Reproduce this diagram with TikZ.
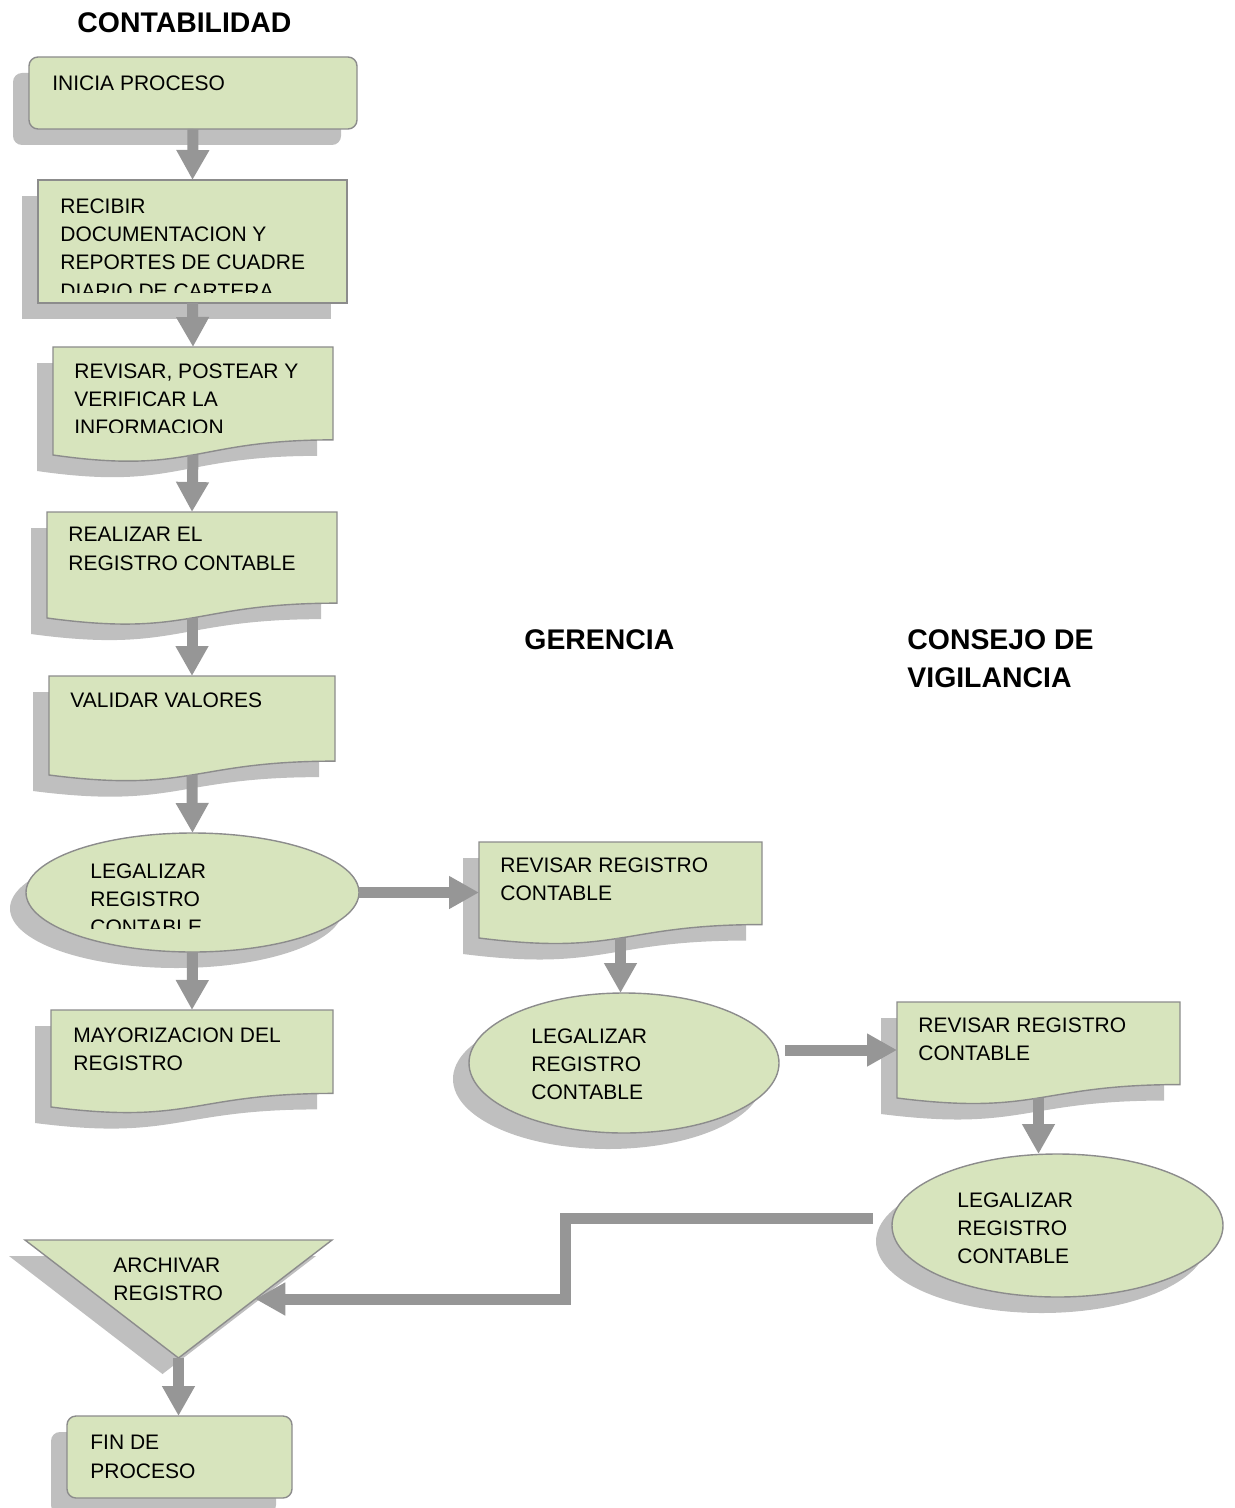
\documentclass[tikz,border=0pt]{standalone}
\usepackage{fontspec}
\setmainfont{Liberation Sans}
\usetikzlibrary{positioning, shapes.geometric, shadows, calc, arrows.meta}

\definecolor{boxfill}{HTML}{D7E4BD}
\definecolor{boxline}{HTML}{8C8C8C}
\definecolor{dropfill}{HTML}{BFBFBF}
\definecolor{flowgray}{HTML}{969696}

\tikzset{
outline/.style={draw=boxline, line width=0.7pt, fill=boxfill}, % green shapes with a thin gray border
dropgray/.style={drop shadow={shadow xshift=-8pt, shadow yshift=-8pt, fill=dropfill, opacity=1}},
procbox/.style={rectangle, outline, dropgray, inner sep=0pt, outer sep=0pt},
startbox/.style={procbox, rounded corners=4.5pt},
docbox/.style={rectangle, inner sep=0pt, outer sep=0pt}, % outline is drawn by \docpath
legal/.style={ellipse, outline, dropgray, inner sep=0pt, outer sep=0pt},
txt/.style={inner sep=0pt, anchor=north west, align=left, font=\fontsize{10.5}{14.2}\selectfont},
heading/.style={inner sep=0pt, anchor=north west, align=left, font=\bfseries\fontsize{14.2}{19}\selectfont},
flow/.style={draw=flowgray, line width=5.5pt, -{Triangle[length=15pt, width=15.5pt]}},
}

% document shape: flat top, wavy bottom
\newcommand{\docpath}[1]{%
  \draw[outline, dropgray] (#1.north west) -- (#1.north east)
    -- ($(#1.north east)!0.86!(#1.south east)$)
    .. controls ($(#1.north)!0.86!(#1.south)$) and ($(#1.north)!1.186!(#1.south)$) .. (#1.south west) -- cycle;}

\begin{document}
\begin{tikzpicture}[x=0.5pt, y=-0.5pt]
        \useasboundingbox (0,0) rectangle (1235,1508);

        % headings
        \node[heading] (contab) at (77,12) {CONTABILIDAD};
        \node[heading] (geren) at (524,629) {GERENCIA};
        \node[heading] (consejo) at (907,629) {CONSEJO DE\\VIGILANCIA};

        % shapes
        \node[startbox, minimum width=164pt, minimum height=36pt] (inicia) at (193,93) {};
        \node[procbox, minimum width=154.5pt, minimum height=61.5pt] (recibir) at (192.5,241.5) {};
        \node[docbox, minimum width=140pt, minimum height=54pt] (revisar) at (193,401) {};
        \node[docbox, minimum width=145pt, minimum height=53pt] (realizar) at (192,565) {};
        \node[docbox, minimum width=143pt, minimum height=49.5pt] (validar) at (192,725.5) {};
        \node[legal, minimum width=166.5pt, minimum height=59.5pt] (leg1) at (192.5,892.5) {};
        \node[docbox, minimum width=141pt, minimum height=48.5pt] (mayor) at (192,1058.5) {};
        \node[docbox, minimum width=141.5pt, minimum height=48pt] (rev1) at (620.5,890) {};
        \node[legal, minimum width=155pt, minimum height=70pt] (leg2) at (624,1063) {};
        \node[docbox, minimum width=141.5pt, minimum height=48pt] (rev2) at (1038.5,1050) {};
        \node[legal, minimum width=165.5pt, minimum height=71.5pt] (leg3) at (1057.5,1225.5) {};
        \node[docbox, minimum width=153.5pt, minimum height=59pt] (archivar) at (178.5,1299) {};
        \node[startbox, minimum width=112.5pt, minimum height=41pt] (fin) at (179.5,1457) {};

        \docpath{revisar}
        \docpath{realizar}
        \docpath{validar}
        \docpath{mayor}
        \docpath{rev1}
        \docpath{rev2}
        \draw[outline, dropgray] (archivar.north west) -- (archivar.north east) -- (archivar.south) -- cycle;

        % texts
        \node[txt, below right=9pt and 11.5pt of inicia.north west] (iniciatxt) {INICIA PROCESO};
        \begin{scope}
            \clip (recibir.north west) rectangle ([yshift=5pt]recibir.south east);
            \node[txt, below right=9pt and 11pt of recibir.north west] (recibirtxt) {RECIBIR\\DOCUMENTACION Y\\REPORTES DE CUADRE\\DIARIO DE CARTERA};
        \end{scope}
        \begin{scope}
            \clip (revisar.north west) rectangle ([yshift=11.5pt]revisar.south east);
            \node[txt, below right=8pt and 10.5pt of revisar.north west] (revisartxt) {REVISAR, POSTEAR Y\\VERIFICAR LA\\INFORMACION};
        \end{scope}
        \node[txt, below right=7.5pt and 10.5pt of realizar.north west] (realizartxt) {REALIZAR EL\\REGISTRO CONTABLE};
        \node[txt, below right=8pt and 10.5pt of validar.north west] (validartxt) {VALIDAR VALORES};
        \begin{scope}
            \clip (leg1.west |- leg1.north) rectangle ($(leg1.east |- leg1.south)+(0,-24)$);
            \node[txt] (leg1txt) at ([xshift=-51.25pt, yshift=14.75pt]leg1.center) {LEGALIZAR\\REGISTRO\\CONTABLE};
        \end{scope}
        \node[txt, below right=8.5pt and 11pt of mayor.north west] (mayortxt) {MAYORIZACION DEL\\REGISTRO};
        \node[txt, below right=7.5pt and 10.5pt of rev1.north west] (rev1txt) {REVISAR REGISTRO\\CONTABLE};
        \node[txt] (leg2txt) at ([xshift=-46.5pt, yshift=17.5pt]leg2.center) {LEGALIZAR\\REGISTRO\\CONTABLE};
        \node[txt, below right=7.5pt and 10.5pt of rev2.north west] (rev2txt) {REVISAR REGISTRO\\CONTABLE};
        \node[txt] (leg3txt) at ([xshift=-50.25pt, yshift=16.75pt]leg3.center) {LEGALIZAR\\REGISTRO\\CONTABLE};
        \node[txt, below right=8.5pt and 44pt of archivar.north west] (archivartxt) {ARCHIVAR\\REGISTRO};
        \node[txt, below right=9.5pt and 11.5pt of fin.north west] (fintxt) {FIN DE\\PROCESO};

        % connectors
        \coordinate (back) at (873,1218);
        \coordinate (bend) at (565,1299);
        \draw[flow] (inicia.south) -- (recibir.north);
        \draw[flow] (recibir.south) -- (revisar.north);
        \draw[flow] (revisar.south) -- (realizar.north);
        \draw[flow] (realizar.south) -- (validar.north);
        \draw[flow] (validar.south) -- (leg1.north);
        \draw[flow] (leg1.south) -- (mayor.north);
        \draw[flow] (leg1.east) -- (leg1.east -| rev1.west);
        \draw[flow] (rev1.south) -- (rev1.south |- leg2.north);
        \draw[flow] ([xshift=3pt]leg2.east |- rev2.west) -- (rev2.west);
        \draw[flow] (rev2.south) -- (rev2.south |- leg3.north);
        \draw[flow] (back) -| (bend) -- ($(archivar.north east)!0.5!(archivar.south)$);
        \draw[flow] (archivar.south) -- (archivar.south |- fin.north);
    \end{tikzpicture}
\end{document}
